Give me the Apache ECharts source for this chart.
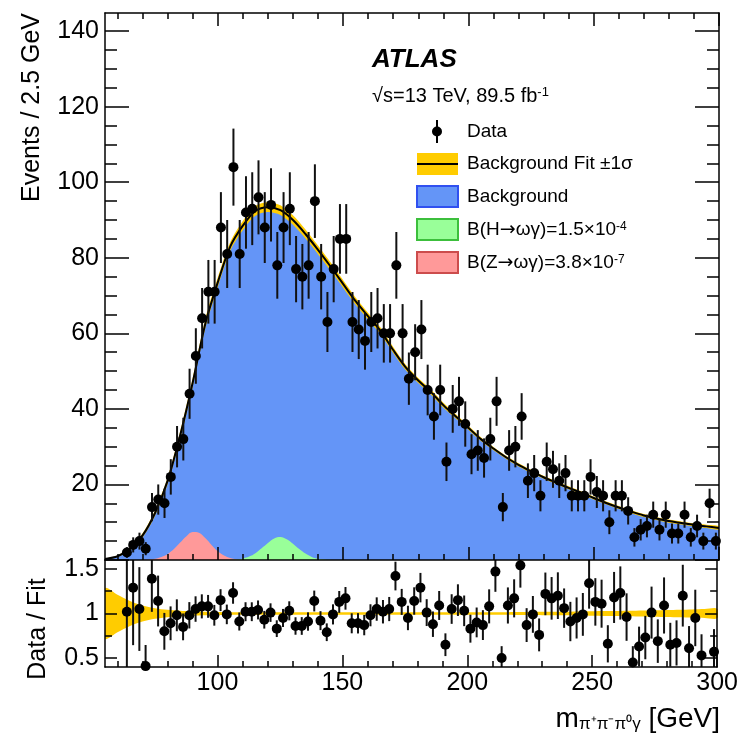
<!DOCTYPE html>
<html>
<head>
<meta charset="utf-8">
<script src="https://cdn.jsdelivr.net/npm/echarts@6/dist/echarts.min.js"></script>
<style>
html,body{margin:0;padding:0;background:#fff}
#chart{width:741px;height:740px}
</style>
</head>
<body>
<div id="chart"></div>
<script>
// histogram binning
var binLow = 55
var binWidth = 2.5

// events per 2.5 GeV bin, from 55 GeV
var counts = [0,0,0,2,4,5,3,14,16,15,
    22,30,32,44,54,64,71,71,88,81,
    104,81,92,93,96,88,94,78,88,93,
    77,75,78,95,75,63,77,85,85,63,
    61,58,63,64,60,60,78,60,48,55,
    61,45,38,45,26,40,42,36,28,29,
    27,32,42,14,29,30,38,21,23,17,
    26,24,21,23,17,17,17,22,18,17,
    10,17,17,13,6,8,9,12,8,12,
    7,7,12,6,9,5,15,5]

// data / fit per bin
var ratios = [null,null,null,1.02,1.29,1.05,0.41,1.39,1.14,0.80,
    0.89,0.98,0.85,0.98,1.05,1.08,1.08,0.98,1.15,0.99,
    1.23,0.91,1.02,1.02,1.04,0.93,1.01,0.83,0.95,1.03,
    0.86,0.86,0.91,1.14,0.92,0.79,0.99,1.13,1.17,0.89,
    0.89,0.87,0.98,1.05,1.02,1.05,1.42,1.13,0.95,1.14,
    1.29,1.01,0.88,1.09,0.65,1.05,1.15,1.03,0.83,0.90,
    0.87,1.08,1.47,0.50,1.09,1.17,1.54,0.87,0.99,0.76,
    1.22,1.17,1.20,1.06,0.91,0.95,0.99,1.34,1.13,1.11,
    0.66,1.18,1.23,0.96,0.45,0.63,0.73,1.01,0.69,1.09,
    0.65,0.67,1.20,0.61,0.95,0.53,null,0.57]

// background fit curve
var fitMass = [55,60,65,70,75,80,85,90,95,100,
    105,110,115,120,125,130,135,140,145,150,
    155,160,165,170,175,180,185,190,195,200,
    205,210,215,220,225,230,235,240,245,250,
    255,260,265,270,275,280,285,290,295,300]
var fitValue = [0.3,1.0,3.0,6.5,12.5,21.0,33.0,47.0,62.5,73.5,
    83.0,88.5,92.4,93.4,92.6,90.0,86.3,82.1,77.7,73.1,
    68.5,64.5,60.6,55.6,51.0,47.5,44.5,41.0,38.0,35.0,
    32.0,29.5,27.2,25.2,23.5,21.9,20.5,19.1,17.8,16.4,
    15.1,13.9,12.8,11.8,11.0,10.3,9.8,9.3,8.9,8.5]
// relative 1 sigma of the fit
var fitErr = [0.28,0.21,0.14,0.09,0.06,0.042,0.032,0.025,0.02,0.017,
    0.014,0.014,0.014,0.014,0.014,0.014,0.014,0.014,0.014,0.014,
    0.014,0.014,0.014,0.014,0.014,0.014,0.015,0.015,0.015,0.015,
    0.015,0.015,0.015,0.017,0.018,0.019,0.02,0.021,0.023,0.025,
    0.027,0.029,0.031,0.034,0.037,0.04,0.043,0.046,0.05,0.054]

// signal shapes
var zMass = [70,72.5,75,77.5,80,82.5,85,87.5,90,92.5,95,97.5,100,102.5,105,107.5,110,112.5]
var zSignal = [0,0.1,0.3,0.8,1.6,2.9,4.6,6.3,7.4,7.2,5.8,4.0,2.3,1.2,0.5,0.2,0.05,0]
var hMass = [105,107.5,110,112.5,115,117.5,120,122.5,125,127.5,130,132.5,135,137.5,140,142.5,145]
var hSignal = [0,0.1,0.4,0.9,1.8,3.1,4.5,5.7,6.1,5.5,4.3,2.9,1.7,0.8,0.3,0.1,0]

// ticks
var xMajorTicks = [100,150,200,250,300]
var xMinorTicks = [60,70,80,90,110,120,130,140,160,170,180,190,210,220,230,240,260,270,280,290]
var yMajorTicks = [0,20,40,60,80,100,120,140]
var yLabels = [20,40,60,80,100,120,140]
var yMinorTicks = [5,10,15,25,30,35,45,50,55,65,70,75,85,90,95,105,110,115,125,130,135]
var rMajorTicks = [0.5,1,1.5]
var rMinorTicks = [0.75,1.25]

var FONT = 'Liberation Sans'
var BLUE = '#6495f7'
var YELLOW = '#ffcc00'

function xAxisDef(grid, pos, ticks, len, line, labels){
    return {
        type:'value', gridIndex:grid, position:pos, min:55, max:300, z:10,
        axisLine:{show:line, onZero:false, lineStyle:{color:'#000', width:1.5}},
        axisTick:{show:true, inside:true, length:len, customValues:ticks, lineStyle:{color:'#000', width:1.5}},
        axisLabel:labels ? {show:true, customValues:labels, margin:4, color:'#000', fontSize:25, fontFamily:FONT} : {show:false},
        splitLine:{show:false}
    }
}
function yAxisDef(grid, pos, min, max, ticks, len, line, labels){
    return {
        type:'value', gridIndex:grid, position:pos, min:min, max:max, z:10,
        axisLine:{show:line, onZero:false, lineStyle:{color:'#000', width:1.5}},
        axisTick:{show:true, inside:true, length:len, customValues:ticks, lineStyle:{color:'#000', width:1.5}},
        axisLabel:labels ? {show:true, customValues:labels, margin:6, color:'#000', fontSize:25, fontFamily:FONT} : {show:false},
        splitLine:{show:false}
    }
}

var points = [], bars = [], rPoints = [], rBars = []
for (var i = 0; i < counts.length; i++)
{
    if (!counts[i]) continue
    var m = binLow + binWidth*(i + 0.5)
    var e = Math.sqrt(counts[i])
    points.push([m, counts[i]])
    bars.push([m, Math.max(counts[i] - e, 0), Math.min(counts[i] + e, 144.8)])
    if (ratios[i] == null) continue
    var re = ratios[i]/e
    rPoints.push([m, ratios[i]])
    rBars.push([m, Math.max(ratios[i] - re, 0.4), Math.min(ratios[i] + re, 1.6)])
}

// fit band rows: mass, low, high
var fitLine = [], band = [], rBand = []
for (var i = 0; i < fitMass.length; i++)
{
    fitLine.push([fitMass[i], fitValue[i]])
    band.push([fitMass[i], fitValue[i]*(1 - fitErr[i]), fitValue[i]*(1 + fitErr[i])])
    rBand.push([fitMass[i], 1 - fitErr[i], 1 + fitErr[i]])
}
var zLine = [], hLine = []
for (var i = 0; i < zMass.length; i++) zLine.push([zMass[i], zSignal[i]])
for (var i = 0; i < hMass.length; i++) hLine.push([hMass[i], hSignal[i]])

function errorBars(params, api){
    var p1 = api.coord([api.value(0), api.value(1)])
    var p2 = api.coord([api.value(0), api.value(2)])
    return {type:'line', shape:{x1:p1[0], y1:p1[1], x2:p2[0], y2:p2[1]},
        style:{stroke:'#111', lineWidth:2}}
}

// whole band drawn as one polygon from the first item
function bandPolygon(rows){
    return function(params, api){
        if (params.dataIndex != 0) return
        var up = [], down = []
        for (var k = 0; k < rows.length; k++)
        {
            up.push(api.coord([rows[k][0], rows[k][2]]))
            down.unshift(api.coord([rows[k][0], rows[k][1]]))
        }
        return {type:'polygon', shape:{points:up.concat(down), smooth:0.3},
            style:{fill:YELLOW}}
    }
}

var legendRich = {
    sup:{fontSize:12, fontFamily:FONT, fill:'#000', verticalAlign:'top'},
    arr:{fontSize:19, fontFamily:'DejaVu Sans', fill:'#000'}
}
function legendText(y, txt){
    return {type:'text', x:467, y:y, z:20, style:{text:txt, fill:'#000', fontSize:19, fontFamily:FONT,
        verticalAlign:'middle', rich:legendRich}}
}

var chartDom = document.getElementById('chart')
var myChart = echarts.init(chartDom)

var option = {
    animation:false,
    textStyle:{fontFamily:FONT},
    grid:[
        {left:105, right:22, top:13, height:547},
        {left:105, right:22, top:560, height:107}
    ],
    xAxis:[
        xAxisDef(0,'bottom',xMajorTicks,13,true),
        xAxisDef(0,'top',xMajorTicks,13,true),
        xAxisDef(0,'bottom',xMinorTicks,6,false),
        xAxisDef(0,'top',xMinorTicks,6,false),
        xAxisDef(1,'bottom',xMajorTicks,12,true,xMajorTicks),
        xAxisDef(1,'bottom',xMinorTicks,6,false)
    ],
    yAxis:[
        yAxisDef(0,'left',0,144.8,yMajorTicks,24,true,yLabels),
        yAxisDef(0,'right',0,144.8,yMajorTicks,24,true),
        yAxisDef(0,'left',0,144.8,yMinorTicks,12,false),
        yAxisDef(0,'right',0,144.8,yMinorTicks,12,false),
        yAxisDef(1,'left',0.4,1.6,rMajorTicks,12,true,rMajorTicks),
        yAxisDef(1,'right',0.4,1.6,rMajorTicks,12,true),
        yAxisDef(1,'left',0.4,1.6,rMinorTicks,7,false),
        yAxisDef(1,'right',0.4,1.6,rMinorTicks,7,false)
    ],
    series:[
        {type:'line', name:'Background', data:fitLine, smooth:0.3, symbol:'none', z:1,
            lineStyle:{width:0}, areaStyle:{color:BLUE, opacity:1}},
        {type:'line', name:'Z', data:zLine, smooth:0.4, symbol:'none', z:2,
            lineStyle:{width:0}, areaStyle:{color:'#ff9999', opacity:1}},
        {type:'line', name:'H', data:hLine, smooth:0.4, symbol:'none', z:2,
            lineStyle:{width:0}, areaStyle:{color:'#99ff99', opacity:1}},
        {type:'custom', data:band, renderItem:bandPolygon(band), clip:true, z:3},
        {type:'line', name:'Fit', data:fitLine, smooth:0.3, symbol:'none', z:4,
            lineStyle:{color:'#000', width:2}},
        {type:'custom', data:bars, renderItem:errorBars, z:5, encode:{x:0, y:[1,2]}},
        {type:'scatter', data:points, symbolSize:10, z:6, itemStyle:{color:'#000', opacity:1}},

        {type:'custom', xAxisIndex:4, yAxisIndex:4, data:rBand, renderItem:bandPolygon(rBand), clip:true, z:3},
        {type:'custom', xAxisIndex:4, yAxisIndex:4, data:rBars, renderItem:errorBars, z:5, encode:{x:0, y:[1,2]}},
        {type:'scatter', xAxisIndex:4, yAxisIndex:4, data:rPoints, symbolSize:10, z:6, itemStyle:{color:'#000', opacity:1}}
    ],
    graphic:[
        {type:'text', x:32, y:13, rotation:Math.PI/2, style:{text:'Events / 2.5 GeV', fill:'#000',
            fontSize:25, fontFamily:FONT, align:'right', verticalAlign:'middle'}},
        {type:'text', x:38, y:629, rotation:Math.PI/2, style:{text:'Data / Fit', fill:'#000',
            fontSize:25, fontFamily:FONT, align:'center', verticalAlign:'middle'}},
        {type:'text', x:720, y:719, style:{text:'{m|m}{s|π⁺π⁻π⁰γ}{g| [GeV]}', fill:'#000', align:'right', verticalAlign:'middle',
            rich:{m:{fontSize:28, fontFamily:FONT, fill:'#000'},
                s:{fontSize:17, fontFamily:FONT, fill:'#000', verticalAlign:'bottom'},
                g:{fontSize:28, fontFamily:FONT, fill:'#000'}}}},
        {type:'text', x:372, y:60, style:{text:'ATLAS', fill:'#000', fontSize:26, fontWeight:'bold',
            fontStyle:'italic', fontFamily:FONT, verticalAlign:'middle'}},
        {type:'text', x:372, y:96, style:{text:'√s=13 TeV, 89.5 fb{sup|-1}', fill:'#000', fontSize:20, fontFamily:FONT,
            verticalAlign:'middle', rich:{sup:{fontSize:13, fontFamily:FONT, fill:'#000', verticalAlign:'top'}}}},

        {type:'line', z:20, shape:{x1:437, y1:120, x2:437, y2:143}, style:{stroke:'#000', lineWidth:2}},
        {type:'circle', z:20, shape:{cx:437, cy:131.5, r:5}, style:{fill:'#000'}},
        legendText(131.5, 'Data'),

        {type:'rect', z:20, shape:{x:417, y:153, width:41, height:22}, style:{fill:YELLOW}},
        {type:'line', z:20, shape:{x1:417, y1:164, x2:458, y2:164}, style:{stroke:'#000', lineWidth:2}},
        legendText(164, 'Background Fit ±1σ'),

        {type:'rect', z:20, shape:{x:417, y:186, width:41, height:21}, style:{fill:BLUE, stroke:'#3050f0', lineWidth:2}},
        legendText(197, 'Background'),

        {type:'rect', z:20, shape:{x:417, y:219, width:41, height:21}, style:{fill:'#99ff99', stroke:'#3cbf3c', lineWidth:2}},
        legendText(230, 'B(H{arr|→}ωγ)=1.5×10{sup|-4}'),

        {type:'rect', z:20, shape:{x:417, y:252, width:41, height:21}, style:{fill:'#ff9999', stroke:'#cc4c4c', lineWidth:2}},
        legendText(263, 'B(Z{arr|→}ωγ)=3.8×10{sup|-7}')
    ]
}

option && myChart.setOption(option)
</script>
</body>
</html>
